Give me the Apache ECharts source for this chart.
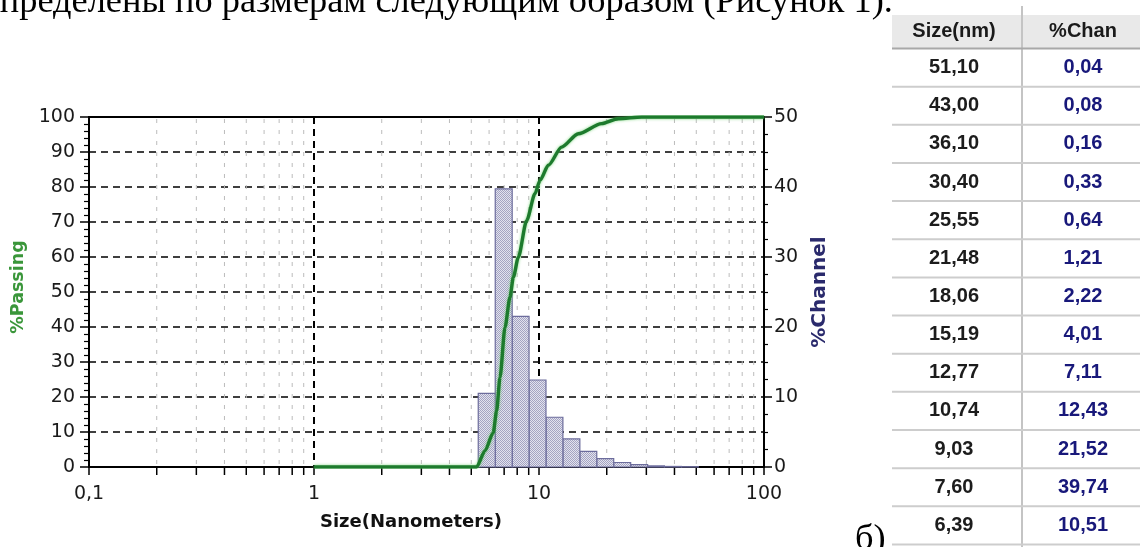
<!DOCTYPE html>
<html>
<head>
<meta charset="utf-8">
<script src="https://cdn.jsdelivr.net/npm/echarts@6/dist/echarts.min.js"></script>
<style>
html,body{margin:0;padding:0;background:#fff;}
#chart{width:1140px;height:547px;}
</style>
</head>
<body>
<div id="chart"></div>
<script>
// ---- data ----
// table rows: channel upper size (nm) and % in channel
const sizes = [51.10, 43.00, 36.10, 30.40, 25.55, 21.48, 18.06, 15.19, 12.77, 10.74, 9.03, 7.60, 6.39];
const chan  = [0.04, 0.08, 0.16, 0.33, 0.64, 1.21, 2.22, 4.01, 7.11, 12.43, 21.52, 39.74, 10.51];
const lowestEdge = 5.37; // lower edge of the smallest channel
// cumulative %Passing curve
const passingSizes  = [1, 5.28, 5.75, 6.26, 6.48, 6.71, 7.06, 7.43, 7.69, 8.09, 8.81, 9.60, 10.1, 11.0, 12.6, 14.95, 18.97, 22.5, 28.6, 100];
const passingValues = [0, 0, 4.6, 9.8, 16.0, 25.6, 39.9, 48.5, 54.2, 59.9, 70.4, 78.1, 81.9, 86.2, 91.4, 95.2, 98.1, 99.5, 100, 100];
// minor log tick positions on the size axis
const minorTicks = [0.2,0.3,0.4,0.5,0.6,0.7,0.8,0.9, 2,3,4,5,6,7,8,9, 20,30,40,50,60,70,80,90];
const xTickLabels = ['0,1', '1', '10', '100'];
const tableHeader = ['Size(nm)', '%Chan'];
const topText = 'пределены по размерам следующим образом (Рисунок 1).';
const figLabel = 'б)';

// ---- helpers ----
const fmt = v => v.toFixed(2).replace('.', ',');
const binData = sizes.map((s, i) => [i + 1 < sizes.length ? sizes[i + 1] : lowestEdge, s, chan[i]]);
const passData = passingSizes.map((s, i) => [s, passingValues[i]]);

// bar hatch pattern
const pat = document.createElement('canvas');
pat.width = 2; pat.height = 2;
const pctx = pat.getContext('2d');
pctx.fillStyle = '#e2e2ee'; pctx.fillRect(0, 0, 2, 2);
pctx.fillStyle = '#a4a4c2'; pctx.fillRect(0, 0, 1, 1); pctx.fillRect(1, 1, 1, 1);

// measure serif text to place the document line
const mctx = document.createElement('canvas').getContext('2d');
mctx.font = '100px "Liberation Serif"';
const wMid = mctx.measureText('по размерам следующим образом (Рисунок 1).').width;
const serifSize = 718 / wMid * 100;
const prefixW = mctx.measureText('пределены ').width * serifSize / 100;
const topX = 175 - prefixW;

// table layout
const tblLeft = 892, tblSep = 1022, tblRight = 1140;
const headTop = 15, rowTop = 48.5, rowH = 38.15;
const col1 = 954, col2 = 1083;
const graphics = [];
graphics.push({type:'rect', shape:{x:tblLeft, y:headTop, width:tblRight - tblLeft, height:rowTop - headTop}, style:{fill:'#e9e9e9'}, z:1});
graphics.push({type:'line', shape:{x1:tblSep, y1:6, x2:tblSep, y2:547}, style:{stroke:'#c4c4c4', lineWidth:2}, z:2});
for (let i = 0; i <= sizes.length; i++) {
  const y = rowTop + i * rowH;
  graphics.push({type:'line', shape:{x1:tblLeft, y1:y, x2:tblRight, y2:y}, style:{stroke: i === 0 ? '#a8a8a8' : '#cdcdcd', lineWidth:2}, z:2});
}
graphics.push({type:'text', x:col1, y:(headTop + rowTop) / 2, style:{text:tableHeader[0], font:'bold 20px "Liberation Sans"', fill:'#1a1a1a', align:'center', verticalAlign:'middle'}, z:3});
graphics.push({type:'text', x:col2, y:(headTop + rowTop) / 2, style:{text:tableHeader[1], font:'bold 20px "Liberation Sans"', fill:'#1a1a1a', align:'center', verticalAlign:'middle'}, z:3});
sizes.forEach((s, i) => {
  const cy = rowTop + (i + 0.5) * rowH;
  graphics.push({type:'text', x:col1, y:cy, style:{text:fmt(s), font:'bold 20px "Liberation Sans"', fill:'#1c1c1c', align:'center', verticalAlign:'middle'}, z:3});
  graphics.push({type:'text', x:col2, y:cy, style:{text:fmt(chan[i]), font:'bold 20px "Liberation Sans"', fill:'#18187a', align:'center', verticalAlign:'middle'}, z:3});
});
graphics.push({type:'text', x:topX, y:14.5 - 0.3375 * serifSize, style:{text:topText, font: serifSize.toFixed(2) + 'px "Liberation Serif"', fill:'#000', align:'left', verticalAlign:'middle'}, z:3});
graphics.push({type:'text', x:855, y:552 - 0.3375 * serifSize, style:{text:figLabel, font: serifSize.toFixed(2) + 'px "Liberation Serif"', fill:'#000', align:'left', verticalAlign:'middle'}, z:3});

const chart = echarts.init(document.getElementById('chart'), null, {renderer:'canvas'});
const axisFont = {fontFamily:'DejaVu Sans', fontSize:19, color:'#1a1a1a'};
chart.setOption({
  backgroundColor:'#fff',
  animation:false,
  grid:{left:89, right:376, top:117, bottom:80, show:true, borderColor:'#000', borderWidth:2, backgroundColor:'transparent'},
  xAxis:{
    type:'log', logBase:10, min:0.1, max:100,
    name:'Size(Nanometers)', nameLocation:'middle', nameGap:46,
    nameTextStyle:{fontFamily:'DejaVu Sans', fontWeight:'bold', fontSize:18, color:'#111', padding:[0,31,0,0]},
    axisLine:{lineStyle:{color:'#000', width:2}},
    axisTick:{show:true, length:8, lineStyle:{color:'#000', width:1.5}},
    axisLabel:Object.assign({margin:18, formatter:(v) => {
      const k = Math.round(Math.log10(v)) + 1;
      return xTickLabels[k] !== undefined ? xTickLabels[k] : String(v);
    }}, axisFont),
    splitLine:{show:true, lineStyle:{color:'#000', width:2, type:[7,5]}}
  },
  yAxis:[{
    type:'value', min:0, max:100, interval:10, position:'left',
    name:'%Passing', nameLocation:'middle', nameRotate:90, nameGap:57,
    nameTextStyle:{fontFamily:'DejaVu Sans', fontWeight:'bold', fontSize:17.5, color:'#3a963a', padding:[0,0,0,10]},
    axisLine:{show:true, lineStyle:{color:'#000', width:2}},
    axisTick:{show:true, length:9, lineStyle:{color:'#000', width:1.5}},
    minorTick:{show:true, splitNumber:5, length:5, lineStyle:{color:'#000', width:1.2}},
    axisLabel:Object.assign({margin:14}, axisFont),
    splitLine:{show:true, lineStyle:{color:'#000', width:1.5, type:[7,5]}}
  },{
    type:'value', min:0, max:50, interval:10, position:'right',
    name:'%Channel', nameLocation:'middle', nameRotate:90, nameGap:46,
    nameTextStyle:{fontFamily:'DejaVu Sans', fontWeight:'bold', fontSize:20, color:'#2a2a6c'},
    axisLine:{show:true, lineStyle:{color:'#000', width:2}},
    axisTick:{show:true, length:8, lineStyle:{color:'#000', width:1.5}},
    minorTick:{show:true, splitNumber:4, length:4, lineStyle:{color:'#000', width:1.2}},
    axisLabel:Object.assign({margin:10}, axisFont),
    splitLine:{show:false}
  }],
  series:[{
    type:'custom', name:'minor', clip:false, z:1, silent:true,
    xAxisIndex:0, yAxisIndex:0,
    data:minorTicks.map(v => [v, 0]),
    renderItem:(params, api) => {
      const x = api.coord([api.value(0), 0])[0];
      const top = params.coordSys.y, bottom = params.coordSys.y + params.coordSys.height;
      return {type:'group', children:[
        {type:'line', shape:{x1:x, y1:top + 2, x2:x, y2:bottom}, style:{stroke:'#bcbcbc', lineWidth:1, lineDash:[4,7]}},
        {type:'line', shape:{x1:x, y1:bottom, x2:x, y2:bottom + 8}, style:{stroke:'#000', lineWidth:1.5}}
      ]};
    }
  },{
    type:'custom', name:'%Channel', z:3,
    xAxisIndex:0, yAxisIndex:1,
    encode:{x:[0,1], y:2},
    data:binData,
    renderItem:(params, api) => {
      const p1 = api.coord([api.value(0), api.value(2)]);
      const p2 = api.coord([api.value(1), 0]);
      return {type:'rect', shape:{x:p1[0], y:p1[1], width:p2[0] - p1[0], height:p2[1] - p1[1]},
        style:{fill:{image:pat, repeat:'repeat'}, stroke:'#6c6c9c', lineWidth:1.2}};
    }
  },{
    type:'line', name:'%Passing', z:5,
    xAxisIndex:0, yAxisIndex:0,
    data:passData, showSymbol:false, smooth:0.25, smoothMonotone:'x',
    lineStyle:{color:'#1d7a2d', width:3.4, shadowColor:'rgba(110,210,110,0.9)', shadowBlur:3}
  }],
  graphic:graphics
});
</script>
</body>
</html>
